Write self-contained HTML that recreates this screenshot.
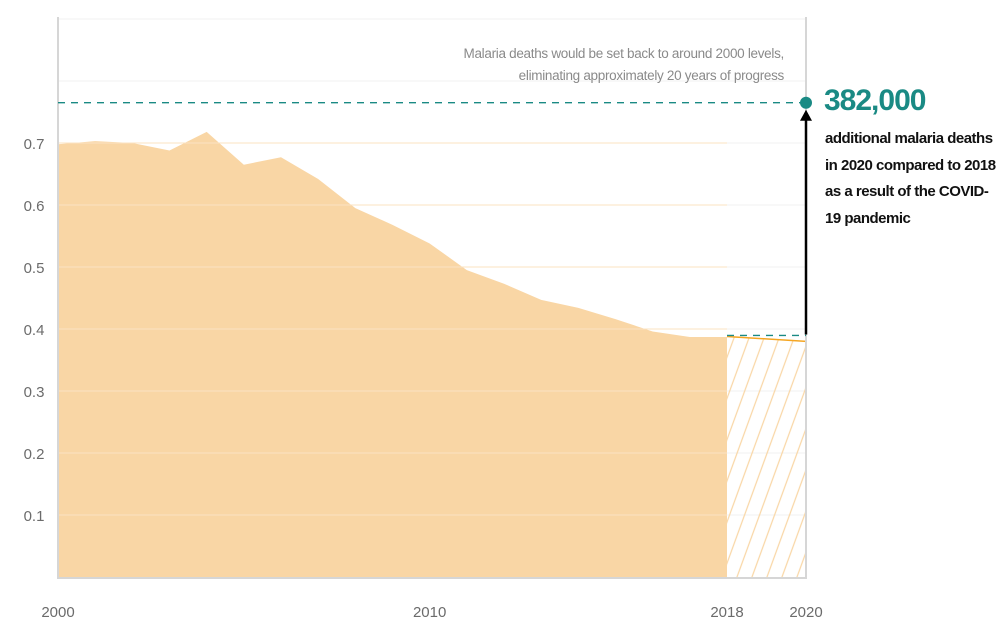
<!DOCTYPE html>
<html><head><meta charset="utf-8"><style>
body{margin:0;background:#fff;width:1002px;height:634px;overflow:hidden;font-family:"Liberation Sans",sans-serif}
svg text{font-family:"Liberation Sans",sans-serif}
</style></head><body>
<svg id="chart" width="1002" height="634" xmlns="http://www.w3.org/2000/svg">
<defs><pattern id="hatch" patternUnits="userSpaceOnUse" width="15" height="40" patternTransform="skewX(-20)"><line x1="2" y1="0" x2="2" y2="40" stroke="#f9d6a5" stroke-width="1.3"/></pattern></defs>
<g id="grid"></g>
<g id="area"></g>
<g id="axes"></g>
<g id="annot"></g>
</svg>
<script>
const years=[2000,2001,2002,2003,2004,2005,2006,2007,2008,2009,2010,2011,2012,2013,2014,2015,2016,2017,2018];
const deaths=[0.698,0.703,0.700,0.688,0.718,0.665,0.677,0.642,0.595,0.568,0.538,0.495,0.473,0.447,0.434,0.416,0.396,0.387,0.387];
const projYears=[2018,2020];
const projDeaths=[0.388,0.380];
const covidLevel=0.765;
const yTicks=[0.1,0.2,0.3,0.4,0.5,0.6,0.7];
const gridVals=[0.1,0.2,0.3,0.4,0.5,0.6,0.7,0.8,0.9];
const xTicks=[2000,2010,2018,2020];
const X=y=>58+(y-2000)*(727-58)/18*(y>2018?1:1)+(y>2018?(y-2018)*((806-727)/2-(727-58)/18):0);
const Y=v=>577-v*620;
const NS="http://www.w3.org/2000/svg";
function mk(p,t,a){const e=document.createElementNS(NS,t);for(const k in a)e.setAttribute(k,a[k]);document.getElementById(p).appendChild(e);return e;}
gridVals.forEach(v=>{const l=mk('grid','line',{x1:58,x2:806,y1:Y(v),y2:Y(v),stroke:'#f0f0f0','stroke-width':1});

});
let d='M'+X(years[0])+','+Y(0);
years.forEach((y,i)=>d+=' L'+X(y)+','+Y(deaths[i]));
d+=' L'+X(years[years.length-1])+','+Y(0)+'Z';
const a=mk('area','path',{d:d,fill:'#f9d6a5'});


gridVals.slice(0,7).forEach(v=>{const l=mk('area','line',{x1:58,x2:X(2018),y1:Y(v),y2:Y(v),stroke:'#fbe3c2','stroke-width':1});

});
const pd='M'+X(projYears[0])+','+Y(0)+' L'+X(projYears[0])+','+Y(projDeaths[0])+' L'+X(projYears[1])+','+Y(projDeaths[1])+' L'+X(projYears[1])+','+Y(0)+'Z';
const h=mk('area','path',{d:pd,fill:'url(#hatch)'});


const pl=mk('area','line',{x1:X(projYears[0]),y1:Y(projDeaths[0]),x2:X(projYears[1]),y2:Y(projDeaths[1]),stroke:'#f5a623','stroke-width':1.5});


const fr=mk('axes','path',{d:'M58,17 L58,578 L806,578 L806,17',fill:'none',stroke:'#d6d6d6','stroke-width':2});


yTicks.forEach(v=>{const t=mk('axes','text',{x:34,y:Y(v)+6,'text-anchor':'middle','font-size':15,fill:'#6b6b6b'});t.textContent=v.toFixed(1);

});
xTicks.forEach(v=>{const t=mk('axes','text',{x:X(v),y:617,'text-anchor':'middle','font-size':15,fill:'#6b6b6b'});t.textContent=v;

});
const dl=mk('annot','line',{x1:58,x2:806,y1:Y(covidLevel),y2:Y(covidLevel),stroke:'#1a8a84','stroke-width':1.3,'stroke-dasharray':'7,6'});


const dl2=mk('annot','line',{x1:X(2018),x2:806,y1:Y(projDeaths[0])-1,y2:Y(projDeaths[0])-1,stroke:'#1a8a84','stroke-width':1.3,'stroke-dasharray':'7,6'});


const ar=mk('annot','line',{x1:806,x2:806,y1:Y(projDeaths[0])-2,y2:Y(covidLevel)+16,stroke:'#000','stroke-width':2.5});


const ah=mk('annot','path',{d:'M800,'+(Y(covidLevel)+18)+' L806,'+(Y(covidLevel)+7)+' L812,'+(Y(covidLevel)+18)+'Z',fill:'#000'});


const dot=mk('annot','circle',{cx:806,cy:Y(covidLevel),r:6,fill:'#1a8a84'});


</script>
<div style="position:absolute;left:380px;top:43px;width:404px;text-align:right;font-size:13.5px;line-height:22px;color:#8a8a8a;letter-spacing:-0.3px">Malaria deaths would be set back to around 2000 levels,<br>eliminating approximately 20 years of progress</div>
<div style="position:absolute;left:824px;top:84px;font-size:30px;font-weight:bold;color:#1a8a84;letter-spacing:-1px">382,000</div>
<div style="position:absolute;left:825px;top:126px;width:175px;font-size:15px;line-height:26.5px;font-weight:bold;color:#111;letter-spacing:-0.5px">additional malaria deaths in 2020 compared to 2018 as a result of the COVID-19 pandemic</div>
</body></html>
